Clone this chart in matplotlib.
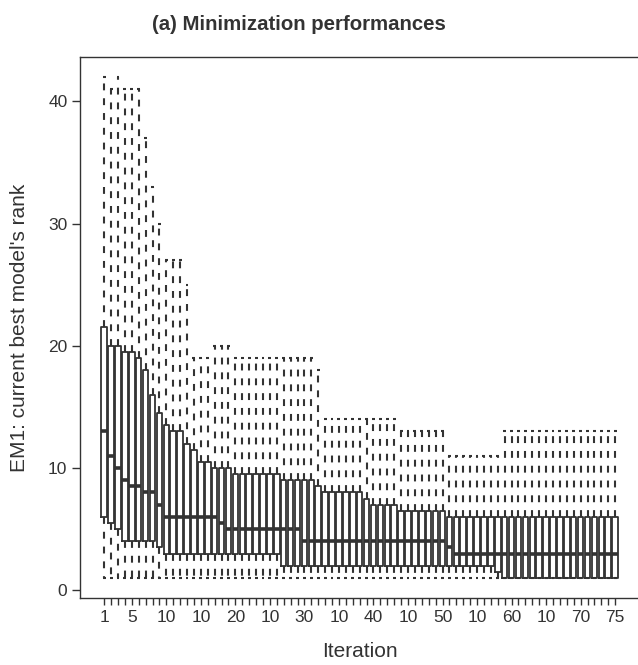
import matplotlib
matplotlib.use("Agg")
import matplotlib.pyplot as plt

plt.rcParams['font.family'] = ['Liberation Sans', 'DejaVu Sans']

INK = "#333333"

# valori (una scatola per iterazione)
iterations = list(range(1, 76))

whis_low = [1] * 75  # il minimo resta sempre 1

q1 = [6, 5.5, 5, 4, 4, 4, 4, 4, 3.5, 3,
      3, 3, 3, 3, 3, 3, 3, 3, 3, 3,
      3, 3, 3, 3, 3, 3, 2, 2, 2, 2,
      2, 2, 2, 2, 2, 2, 2, 2, 2, 2,
      2, 2, 2, 2, 2, 2, 2, 2, 2, 2,
      2, 2, 2, 2, 2, 2, 2, 1.5, 1, 1,
      1, 1, 1, 1, 1, 1, 1, 1, 1, 1,
      1, 1, 1, 1, 1]

median = [13, 11, 10, 9, 8.5, 8.5, 8, 8, 7, 6,
          6, 6, 6, 6, 6, 6, 6, 5.5, 5, 5,
          5, 5, 5, 5, 5, 5, 5, 5, 5, 4,
          4, 4, 4, 4, 4, 4, 4, 4, 4, 4,
          4, 4, 4, 4, 4, 4, 4, 4, 4, 4,
          3.5, 3, 3, 3, 3, 3, 3, 3, 3, 3,
          3, 3, 3, 3, 3, 3, 3, 3, 3, 3,
          3, 3, 3, 3, 3]

q3 = [21.5, 20, 20, 19.5, 19.5, 19, 18, 16, 14.5, 13.5,
      13, 13, 12, 11.5, 10.5, 10.5, 10, 10, 10, 9.5,
      9.5, 9.5, 9.5, 9.5, 9.5, 9.5, 9, 9, 9, 9,
      9, 8.5, 8, 8, 8, 8, 8, 8, 7.5, 7,
      7, 7, 7, 6.5, 6.5, 6.5, 6.5, 6.5, 6.5, 6.5,
      6, 6, 6, 6, 6, 6, 6, 6, 6, 6,
      6, 6, 6, 6, 6, 6, 6, 6, 6, 6,
      6, 6, 6, 6, 6]

whis_high = [42, 41, 42, 41, 41, 41, 37, 33, 30, 27,
             27, 27, 25, 19, 19, 19, 20, 20, 20, 19,
             19, 19, 19, 19, 19, 19, 19, 19, 19, 19,
             19, 18, 14, 14, 14, 14, 14, 14, 14, 14,
             14, 14, 14, 13, 13, 13, 13, 13, 13, 13,
             11, 11, 11, 11, 11, 11, 11, 11, 13, 13,
             13, 13, 13, 13, 13, 13, 13, 13, 13, 13,
             13, 13, 13, 13, 13]

# etichette asse x come appaiono nel grafico
label_pos = [1, 5, 10, 15, 20, 25, 30, 35, 40, 45, 50, 55, 60, 65, 70, 75]
label_txt = ["1", "5", "10", "10", "20", "10", "30", "10", "40", "10",
             "50", "10", "60", "10", "70", "75"]
y_ticks = [0, 10, 20, 30, 40]

stats = []
for i in range(len(iterations)):
    stats.append({
        "whislo": whis_low[i], "q1": q1[i], "med": median[i],
        "q3": q3[i], "whishi": whis_high[i], "fliers": [],
    })

fig = plt.figure(figsize=(6.38, 6.65), dpi=100)
ax = fig.add_axes([80 / 638, 67 / 665, (639.3 - 80) / 638, 541 / 665])

ax.bxp(stats, positions=iterations, widths=0.8, capwidths=0.42,
       showfliers=False, manage_ticks=False,
       boxprops=dict(color=INK, linewidth=1.3),
       medianprops=dict(color=INK, linewidth=2.6, solid_capstyle="butt"),
       whiskerprops=dict(color=INK, linewidth=1.5, linestyle=(0, (3.3, 3.8))),
       capprops=dict(color=INK, linewidth=1.5, solid_capstyle="butt"))

ax.set_xlim(-2.5, 78.5)
ax.set_ylim(-0.64, 43.64)

ax.set_xticks(label_pos)
ax.set_xticklabels(label_txt)
ax.set_xticks(iterations, minor=True)
ax.set_yticks(y_ticks)
ax.tick_params(axis="both", which="both", direction="out", color=INK,
               width=1.0, labelcolor=INK, labelsize=12.5)
ax.tick_params(axis="x", which="both", length=5, pad=4)
ax.tick_params(axis="y", length=6, pad=3)

for side in ["left", "top", "bottom", "right"]:
    ax.spines[side].set_color(INK)
    ax.spines[side].set_linewidth(1.0)

ax.set_xlabel("Iteration", fontsize=15, color=INK, labelpad=12)
ax.set_ylabel("EM1: current best model's rank", fontsize=15, color=INK, labelpad=14)

fig.text(299 / 638, 1 - 25 / 665, "(a) Minimization performances",
         ha="center", va="center", fontsize=14.7, fontweight="bold", color=INK)

fig.savefig("out.png", dpi=100)
